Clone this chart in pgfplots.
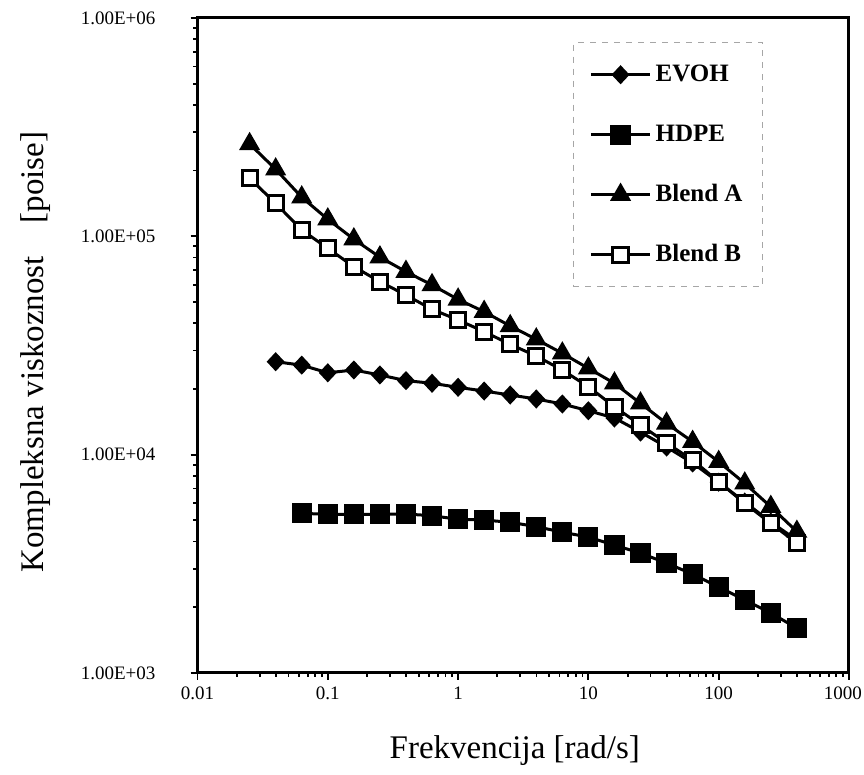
\documentclass[border=0pt]{standalone}
\usepackage{fontspec}
\setmainfont{Liberation Serif}
\usepackage{pgfplots}
\pgfplotsset{compat=1.18}
\begin{document}
\begin{tikzpicture}
\useasboundingbox (-98.75pt,-51pt) rectangle (333.25pt,336.5pt);
\begin{axis}[
  scale only axis, width=325.75pt, height=327.5pt,
  xmode=log, ymode=log,
  xmin=0.01, xmax=1000, ymin=1000, ymax=1000000,
  xtick={0.01,0.1,1,10,100,1000},
  xticklabels={0.01,0.1,1,10,100,\hspace*{-6pt}1000},
  ytick={1000,10000,100000,1000000},
  yticklabels={1.00E+03,1.00E+04,1.00E+05,1.00E+06},
  tick pos=left, tick align=outside,
  major tick length=3.5pt, minor tick length=2pt,
  every tick/.style={black, line width=0.9pt},
  axis line style={line width=1.5pt},
  ticklabel style={font=\fontsize{9.5}{11}\selectfont},
  yticklabel style={xshift=-14pt},
  xlabel={Frekvencija [rad/s]},
  ylabel={Kompleksna viskoznost\hspace{1em}[poise]},
  every axis x label/.style={at={(axis description cs:0.487,-0.118)},anchor=center,font=\fontsize{16.5}{19}\selectfont},
  every axis y label/.style={at={(axis description cs:-0.249,0.49)},rotate=90,anchor=center,font=\fontsize{16.5}{19}\selectfont},
  legend style={at={(rel axis cs:0.868,0.963)}, anchor=north east,
    draw=gray!70, dashed, line width=0.5pt,
    font=\bfseries\fontsize{12.5}{14}\selectfont,
    inner xsep=8pt, inner ysep=8.5pt, row sep=15pt,
    cells={anchor=west}, nodes={text height=9pt, text depth=2pt}},
  legend image code/.code={\draw[mark repeat=2,mark phase=2,#1] plot coordinates {(0cm,0cm) (0.52cm,0cm) (1.04cm,0cm)};},
]
\addplot[solid, black, line width=1.5pt, mark=diamond*, mark size=3.7pt, mark options={solid, xscale=1.25}] coordinates {
(0.03981,26650) (0.06310,25700) (0.1,23710) (0.1585,24420) (0.2512,23170)
(0.3981,21830) (0.6310,21230) (1,20340) (1.585,19560) (2.512,18760)
(3.981,17990) (6.310,17060) (10,15890) (15.85,14720) (25.12,12690)
(39.81,10840) (63.10,9160) (100,7480) (158.5,6065) (251.2,4910) (398.1,4060)
};
\addlegendentry{EVOH}
\addplot[solid, black, line width=1.5pt, mark=square*, mark size=4.3pt, mark options={solid}] coordinates {
(0.06310,5385) (0.1,5330) (0.1585,5330) (0.2512,5330) (0.3981,5346)
(0.6310,5253) (1,5058) (1.585,5018) (2.512,4900) (3.981,4680)
(6.310,4416) (10,4190) (15.85,3852) (25.12,3540) (39.81,3186)
(63.10,2837) (100,2475) (158.5,2160) (251.2,1880) (398.1,1606)
};
\addlegendentry{HDPE}
\addplot[solid, black, line width=1.5pt, mark=triangle*, mark size=4.6pt, mark options={solid}] coordinates {
(0.02512,264800) (0.03981,202800) (0.06310,151000) (0.1,119700) (0.1585,97000)
(0.2512,80200) (0.3981,68900) (0.6310,59840) (1,51400) (1.585,45150)
(2.512,38840) (3.981,33760) (6.310,29110) (10,24850) (15.85,21220)
(25.12,17180) (39.81,13900) (63.10,11460) (100,9270) (158.5,7390)
(251.2,5770) (398.1,4440)
};
\addlegendentry{Blend A}
\addplot[solid, black, line width=1.5pt, mark=square*, mark size=3.8pt, mark options={solid, fill=white}] coordinates {
(0.02512,184400) (0.03981,141600) (0.06310,106900) (0.1,88100) (0.1585,72600)
(0.2512,62000) (0.3981,53800) (0.6310,46300) (1,41400) (1.585,36590)
(2.512,32000) (3.981,28300) (6.310,24400) (10,20480) (15.85,16560)
(25.12,13670) (39.81,11300) (63.10,9445) (100,7515) (158.5,5985)
(251.2,4845) (398.1,3930)
};
\addlegendentry{Blend B}
\end{axis}
\end{tikzpicture}
\end{document}
